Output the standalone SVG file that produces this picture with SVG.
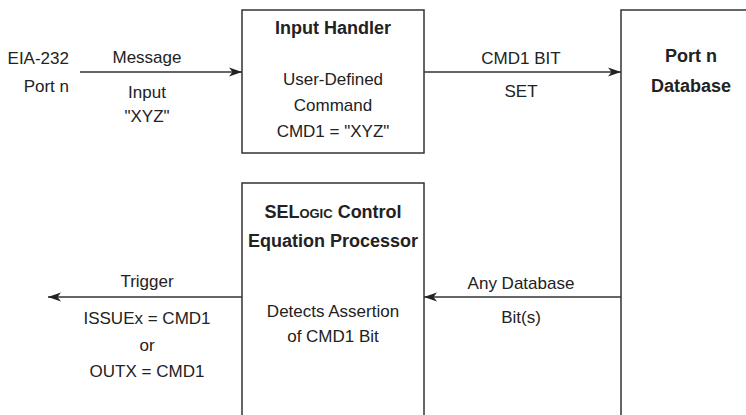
<svg xmlns="http://www.w3.org/2000/svg" width="746" height="415" viewBox="0 0 746 415">
<style>
.box{fill:#fff;stroke:#333;stroke-width:1.5}
.ln{stroke:#333;stroke-width:1.5;fill:none;marker-end:url(#ah)}
text{font-family:"Liberation Sans",Arial,sans-serif;font-size:17px;fill:#222;text-anchor:middle}
.b{font-weight:bold;font-size:18px}
</style>
<defs>
<marker id="ah" markerUnits="userSpaceOnUse" markerWidth="14" markerHeight="10" refX="13" refY="5" orient="auto">
<path d="M0,0.5 L13,5 L0,9.5 L3.5,5 Z" fill="#222"/>
</marker>
</defs>
<rect width="746" height="415" fill="#fff"/>
<g id="input-handler">
<rect class="box" x="242" y="10" width="182" height="143"/>
<text class="b" x="333" y="34">Input Handler</text>
<text x="333" y="85">User-Defined</text>
<text x="333" y="111">Command</text>
<text x="333" y="137">CMD1 = "XYZ"</text>
</g>
<g id="port-database">
<rect class="box" x="621" y="10" width="200" height="500"/>
<text class="b" x="691" y="62">Port n</text>
<text class="b" x="691" y="92">Database</text>
</g>
<g id="selogic">
<rect class="box" x="242" y="183" width="182" height="300"/>
<text class="b" x="333" y="218">SEL<tspan font-size="13">OGIC</tspan> Control</text>
<text class="b" x="333" y="247">Equation Processor</text>
<text x="333" y="317">Detects Assertion</text>
<text x="333" y="342">of CMD1 Bit</text>
</g>
<g id="port-label">
<text x="69" y="64" style="text-anchor:end">EIA-232</text>
<text x="69" y="92" style="text-anchor:end">Port n</text>
</g>
<g id="connectors">
<line class="ln" x1="80" y1="72" x2="242" y2="72"/>
<line class="ln" x1="424" y1="72" x2="621" y2="72"/>
<line class="ln" x1="621" y1="297" x2="424" y2="297"/>
<line class="ln" x1="242" y1="297" x2="48" y2="297"/>
<text x="147" y="63">Message</text>
<text x="147" y="98">Input</text>
<text x="147" y="122">"XYZ"</text>
<text x="521" y="64">CMD1 BIT</text>
<text x="521" y="97">SET</text>
<text x="521" y="289">Any Database</text>
<text x="521" y="323">Bit(s)</text>
<text x="147" y="287">Trigger</text>
<text x="147" y="324">ISSUEx = CMD1</text>
<text x="147" y="351">or</text>
<text x="147" y="377">OUTX = CMD1</text>
</g>
</svg>
